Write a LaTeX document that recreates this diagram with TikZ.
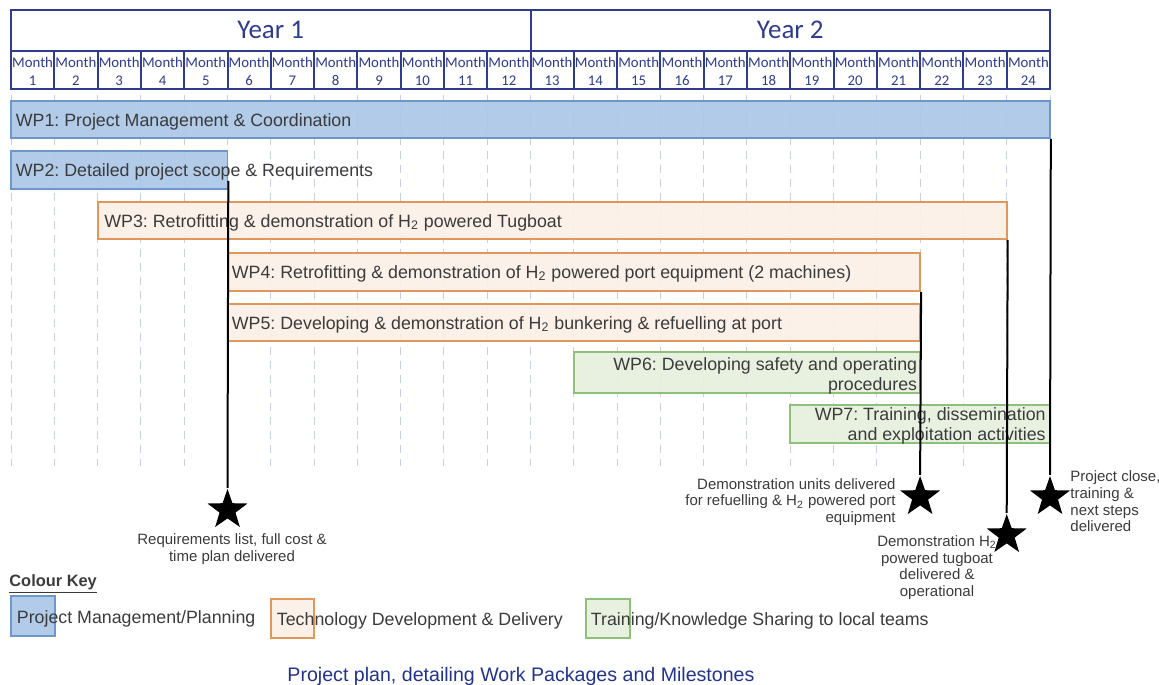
\documentclass[tikz,border=0pt]{standalone}
\usepackage{fontspec}
\setmainfont{Liberation Sans}
\newfontfamily\calibri{Carlito}
\usepackage{tikz}
\usetikzlibrary{shapes.geometric}
\usetikzlibrary{fit}
\frenchspacing

\definecolor{navy}{HTML}{2F3C8E}
\definecolor{pmfill}{HTML}{A9C5E6}
\definecolor{pmline}{HTML}{6F96C8}
\definecolor{tdfill}{HTML}{FBEFE6}
\definecolor{tdline}{HTML}{E2975A}
\definecolor{tkfill}{HTML}{E5F0DD}
\definecolor{tkline}{HTML}{8EC07A}
\definecolor{gridgray}{HTML}{C9D1E1}
\definecolor{textgray}{HTML}{3B3B3B}
\definecolor{captionblue}{HTML}{22338C}

\tikzset{
  hdrline/.style={draw=navy, line width=1pt},
  monthlbl/.style={text=navy, align=center, inner sep=0pt,
                   font=\calibri\fontsize{7.4}{9}\selectfont},
  yearlbl/.style={text=navy, inner sep=0pt,
                  font=\calibri\fontsize{13.5}{15}\selectfont},
  gridline/.style={gridgray, line width=0.5pt, dash pattern=on 4pt off 3pt},
  pmbar/.style={draw=pmline, fill=pmfill, fill opacity=0.9, line width=0.8pt, inner sep=0pt},
  tdbar/.style={draw=tdline, fill=tdfill, fill opacity=0.9, line width=1pt, inner sep=0pt},
  tkbar/.style={draw=tkline, fill=tkfill, fill opacity=0.9, line width=0.8pt, inner sep=0pt},
  bartext/.style={text=textgray, inner sep=0pt, font=\fontsize{8.9}{10}\selectfont},
  mstar/.style={star, star points=5, star point ratio=2.5, fill=black,
                minimum size=21pt, inner sep=0pt},
  msline/.style={black, line width=1pt},
  mstext/.style={text=textgray, inner sep=0pt, font=\fontsize{7.5}{8.3}\selectfont}
}

\begin{document}
\begin{tikzpicture}[x=0.5pt, y=-0.5pt]
\useasboundingbox (0,0) rectangle (1159,684);

% grid
\draw[gridline] (11.0,95) -- (11.0,466);
\draw[gridline] (54.3,95) -- (54.3,466);
\draw[gridline] (97.6,95) -- (97.6,466);
\draw[gridline] (140.9,95) -- (140.9,466);
\draw[gridline] (184.2,95) -- (184.2,466);
\draw[gridline] (227.5,95) -- (227.5,466);
\draw[gridline] (270.8,95) -- (270.8,466);
\draw[gridline] (314.0,95) -- (314.0,466);
\draw[gridline] (357.3,95) -- (357.3,466);
\draw[gridline] (400.6,95) -- (400.6,466);
\draw[gridline] (443.9,95) -- (443.9,466);
\draw[gridline] (487.2,95) -- (487.2,466);
\draw[gridline] (530.5,95) -- (530.5,466);
\draw[gridline] (573.8,95) -- (573.8,466);
\draw[gridline] (617.1,95) -- (617.1,466);
\draw[gridline] (660.4,95) -- (660.4,466);
\draw[gridline] (703.7,95) -- (703.7,466);
\draw[gridline] (746.9,95) -- (746.9,466);
\draw[gridline] (790.2,95) -- (790.2,466);
\draw[gridline] (833.5,95) -- (833.5,466);
\draw[gridline] (876.8,95) -- (876.8,466);
\draw[gridline] (920.1,95) -- (920.1,466);
\draw[gridline] (963.4,95) -- (963.4,466);
\draw[gridline] (1006.7,95) -- (1006.7,466);
\draw[gridline] (1050.0,95) -- (1050.0,466);

% header
\draw[hdrline] (11,10) rectangle (1050,89);
\draw[hdrline, line width=1.3pt] (11,89) -- (1050,89);
\draw[hdrline] (11,51) -- (1050,51);
\draw[hdrline] (530.5,10) -- (530.5,89);
\draw (270.7,30) node (yr1) [yearlbl] {Year 1};
\draw (790.2,30) node (yr2) [yearlbl] {Year 2};
\draw[hdrline] (54.3,51) -- (54.3,89);
\draw[hdrline] (97.6,51) -- (97.6,89);
\draw[hdrline] (140.9,51) -- (140.9,89);
\draw[hdrline] (184.2,51) -- (184.2,89);
\draw[hdrline] (227.5,51) -- (227.5,89);
\draw[hdrline] (270.8,51) -- (270.8,89);
\draw[hdrline] (314.0,51) -- (314.0,89);
\draw[hdrline] (357.3,51) -- (357.3,89);
\draw[hdrline] (400.6,51) -- (400.6,89);
\draw[hdrline] (443.9,51) -- (443.9,89);
\draw[hdrline] (487.2,51) -- (487.2,89);
\draw[hdrline] (573.8,51) -- (573.8,89);
\draw[hdrline] (617.1,51) -- (617.1,89);
\draw[hdrline] (660.4,51) -- (660.4,89);
\draw[hdrline] (703.7,51) -- (703.7,89);
\draw[hdrline] (746.9,51) -- (746.9,89);
\draw[hdrline] (790.2,51) -- (790.2,89);
\draw[hdrline] (833.5,51) -- (833.5,89);
\draw[hdrline] (876.8,51) -- (876.8,89);
\draw[hdrline] (920.1,51) -- (920.1,89);
\draw[hdrline] (963.4,51) -- (963.4,89);
\draw[hdrline] (1006.7,51) -- (1006.7,89);
\draw (32.6,71) node (m1) [monthlbl] {Month\\1};
\draw (75.9,71) node (m2) [monthlbl] {Month\\2};
\draw (119.2,71) node (m3) [monthlbl] {Month\\3};
\draw (162.5,71) node (m4) [monthlbl] {Month\\4};
\draw (205.8,71) node (m5) [monthlbl] {Month\\5};
\draw (249.1,71) node (m6) [monthlbl] {Month\\6};
\draw (292.4,71) node (m7) [monthlbl] {Month\\7};
\draw (335.7,71) node (m8) [monthlbl] {Month\\8};
\draw (379.0,71) node (m9) [monthlbl] {Month\\9};
\draw (422.3,71) node (m10) [monthlbl] {Month\\10};
\draw (465.6,71) node (m11) [monthlbl] {Month\\11};
\draw (508.9,71) node (m12) [monthlbl] {Month\\12};
\draw (552.1,71) node (m13) [monthlbl] {Month\\13};
\draw (595.4,71) node (m14) [monthlbl] {Month\\14};
\draw (638.7,71) node (m15) [monthlbl] {Month\\15};
\draw (682.0,71) node (m16) [monthlbl] {Month\\16};
\draw (725.3,71) node (m17) [monthlbl] {Month\\17};
\draw (768.6,71) node (m18) [monthlbl] {Month\\18};
\draw (811.9,71) node (m19) [monthlbl] {Month\\19};
\draw (855.2,71) node (m20) [monthlbl] {Month\\20};
\draw (898.5,71) node (m21) [monthlbl] {Month\\21};
\draw (941.8,71) node (m22) [monthlbl] {Month\\22};
\draw (985.1,71) node (m23) [monthlbl] {Month\\23};
\draw (1028.4,71) node (m24) [monthlbl] {Month\\24};

% work packages
\node (wp1) [pmbar, fit={(11,101) (1050,138)}] {};
\draw (15.5,121.5) node (wp1txt) [bartext, anchor=west] {WP1: Project Management \& Coordination};
\node (wp2) [pmbar, fit={(11,151) (227.5,189)}] {};
\draw (15.5,172) node (wp2txt) [bartext, anchor=west] {WP2: Detailed project scope \& Requirements};
\node (wp3) [tdbar, fit={(97.6,202) (1006.7,239)}] {};
\draw (104,222.5) node (wp3txt) [bartext, anchor=west] {WP3: Retrofitting \& demonstration of H\textsubscript{2} powered Tugboat};
\node (wp4) [tdbar, fit={(227.5,253) (920.1,291)}] {};
\draw (231.5,273.5) node (wp4txt) [bartext, anchor=west] {WP4: Retrofitting \& demonstration of H\textsubscript{2} powered port equipment (2 machines)};
\node (wp5) [tdbar, fit={(227.5,304) (920.1,341)}] {};
\draw (231.5,324.5) node (wp5txt) [bartext, anchor=west] {WP5: Developing \& demonstration of H\textsubscript{2} bunkering \& refuelling at port};
\node (wp6) [tkbar, fit={(573.8,352) (920.1,393)}] {};
\draw (917.5,375.5) node (wp6txt) [bartext, anchor=east, align=right] {WP6: Developing safety and operating\\procedures};
\node (wp7) [tkbar, fit={(790.2,405) (1050,443)}] {};
\draw (1046,426) node (wp7txt) [bartext, anchor=east, align=right] {WP7: Training, dissemination\\and exploitation activities};

% milestones
\draw (227.5,510) node (ms1) [mstar] {};
\draw (920.1,497) node (ms2) [mstar] {};
\draw (1006.7,535) node (ms3) [mstar] {};
\draw (1050,497) node (ms4) [mstar] {};
\draw[msline] ([yshift=4.5pt]wp2.south east) -- (ms1.north);
\draw[msline] (wp4.south east) -- (ms2.north);
\draw[msline] (wp3.south east) -- (ms3.north);
\draw[msline] (wp1.south east) -- (ms4.north);
\draw (232,549) node (ms1txt) [mstext, align=center] {Requirements list, full cost \&\\time plan delivered};
\draw (896,502) node (ms2txt) [mstext, anchor=east, align=right] {Demonstration units delivered\\for refuelling \& H\textsubscript{2} powered port\\equipment};
\draw (937,567.5) node (ms3txt) [mstext, align=center] {Demonstration H\textsubscript{2}\\powered tugboat\\delivered \&\\operational};
\draw (1070,501.5) node (ms4txt) [mstext, anchor=west, align=left] {Project close,\\training \&\\next steps\\delivered};

% colour key
\draw (9,584) node (keyhead) [anchor=west, inner sep=0pt, text=textgray,
  font=\bfseries\fontsize{8.2}{9}\selectfont] {\underline{Colour Key}};
\node (keypm) [pmbar, fit={(11,596) (55,636)}] {};
\draw (16.5,618.5) node (keypmtxt) [bartext, anchor=west] {Project Management/Planning};
\node (keytd) [tdbar, fit={(271,599) (314,638)}] {};
\draw (276.5,620.5) node (keytdtxt) [bartext, anchor=west] {Technology Development \& Delivery};
\node (keytk) [tkbar, fit={(586,599) (630,638)}] {};
\draw (590.5,621) node (keytktxt) [bartext, anchor=west] {Training/Knowledge Sharing to local teams};

\draw (521,676) node (caption) [text=captionblue, inner sep=0pt,
  font=\fontsize{9.8}{11}\selectfont] {Project plan, detailing Work Packages and Milestones};
\end{tikzpicture}
\end{document}
